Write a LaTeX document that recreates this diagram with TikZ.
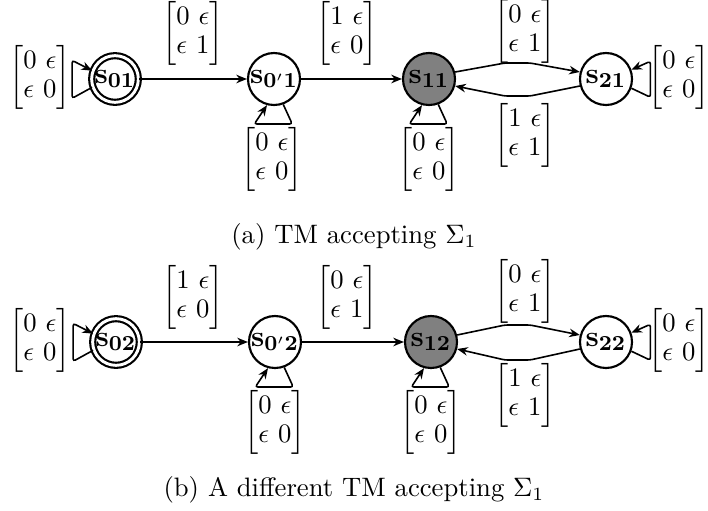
\documentclass[tikz,border=0pt]{standalone}
\usepackage{amsmath}
\usetikzlibrary{arrows.meta}

% 2x2 transition label, rows set a little closer than usual
\newcommand{\tmat}[4]{{\renewcommand{\arraystretch}{0.9}$\begin{bmatrix}#1\ #2\\#3\ #4\end{bmatrix}$}}

\begin{document}
\begin{tikzpicture}[x=0.375pt,y=-0.375pt,
  tmstate/.style={circle,draw,thick,minimum size=19.5pt,inner sep=0pt,
    font=\fontsize{11pt}{13pt}\selectfont},
  accept/.style={tmstate,double,double distance=1.1pt,minimum size=17.5pt},
  halt/.style={tmstate,fill=gray},
  edgeline/.style={semithick,rounded corners=1pt,-{Stealth[length=4pt,width=3.2pt]}},
  lbl/.style={inner sep=0pt},
  caption/.style={inner sep=0pt}]
\useasboundingbox (0,0) rectangle (708,511);

% ---------------- (a) ----------------
\node[accept] (s01)  at (115,79) {$\mathbf{s_{01}}$};
\node[tmstate] (s0p1) at (274,79) {$\mathbf{s_{0'1}}$};
\node[halt]   (s11)  at (429,79) {$\mathbf{s_{11}}$};
\node[tmstate] (s21)  at (606,79) {$\mathbf{s_{21}}$};

\draw[edgeline] (s01) -- (s0p1);
\draw[edgeline] (s0p1) -- (s11);
\draw[edgeline] (s11.15) -- (505,63) -- (530,63) -- (s21.165);
\draw[edgeline] (s21.-165) -- (530,96) -- (505,96) -- (s11.-15);

\draw[edgeline] (s01.200) -- ++(-20,11) -- ++(0,-38) -- (s01.160);
\draw[edgeline] (s0p1.-70) -- ++(9,19.6) -- ++(-38,0) -- (s0p1.-105);
\draw[edgeline] (s11.-70) -- ++(9,19.6) -- ++(-38,0) -- (s11.-105);
\draw[edgeline] (s21.-20) -- ++(19,9) -- ++(0,-36) -- (s21.20);

\node[lbl] (la1) at (40,77)   {\tmat{0}{\epsilon}{\epsilon}{0}};
\node[lbl] (la2) at (193,33)  {\tmat{0}{\epsilon}{\epsilon}{1}};
\node[lbl] (la3) at (347,33)  {\tmat{1}{\epsilon}{\epsilon}{0}};
\node[lbl] (la4) at (525,31)  {\tmat{0}{\epsilon}{\epsilon}{1}};
\node[lbl] (la5) at (525,135) {\tmat{1}{\epsilon}{\epsilon}{1}};
\node[lbl] (la6) at (272,159) {\tmat{0}{\epsilon}{\epsilon}{0}};
\node[lbl] (la7) at (429,159) {\tmat{0}{\epsilon}{\epsilon}{0}};
\node[lbl] (la8) at (679,77)  {\tmat{0}{\epsilon}{\epsilon}{0}};

\node[caption] (capa) at (354,237) {(a) TM accepting $\Sigma_1$};

% ---------------- (b) ----------------
\node[accept] (s02)  at (116,342) {$\mathbf{s_{02}}$};
\node[tmstate] (s0p2) at (275,342) {$\mathbf{s_{0'2}}$};
\node[halt]   (s12)  at (431,342) {$\mathbf{s_{12}}$};
\node[tmstate] (s22)  at (606,342) {$\mathbf{s_{22}}$};

\draw[edgeline] (s02) -- (s0p2);
\draw[edgeline] (s0p2) -- (s12);
\draw[edgeline] (s12.15) -- (505,325) -- (530,325) -- (s22.165);
\draw[edgeline] (s22.-165) -- (530,360) -- (505,360) -- (s12.-15);

\draw[edgeline] (s02.200) -- ++(-20,11) -- ++(0,-38) -- (s02.160);
\draw[edgeline] (s0p2.-70) -- ++(9,19.6) -- ++(-38,0) -- (s0p2.-105);
\draw[edgeline] (s12.-70) -- ++(9,19.6) -- ++(-38,0) -- (s12.-105);
\draw[edgeline] (s22.-20) -- ++(19,9) -- ++(0,-36) -- (s22.20);

\node[lbl] (lb1) at (40,340)  {\tmat{0}{\epsilon}{\epsilon}{0}};
\node[lbl] (lb2) at (193,297) {\tmat{1}{\epsilon}{\epsilon}{0}};
\node[lbl] (lb3) at (347,297) {\tmat{0}{\epsilon}{\epsilon}{1}};
\node[lbl] (lb4) at (525,291) {\tmat{0}{\epsilon}{\epsilon}{1}};
\node[lbl] (lb5) at (525,395) {\tmat{1}{\epsilon}{\epsilon}{1}};
\node[lbl] (lb6) at (275,422) {\tmat{0}{\epsilon}{\epsilon}{0}};
\node[lbl] (lb7) at (431,422) {\tmat{0}{\epsilon}{\epsilon}{0}};
\node[lbl] (lb8) at (679,340) {\tmat{0}{\epsilon}{\epsilon}{0}};

\node[caption] (capb) at (354,490) {(b) A different TM accepting $\Sigma_1$};
\end{tikzpicture}
\end{document}
